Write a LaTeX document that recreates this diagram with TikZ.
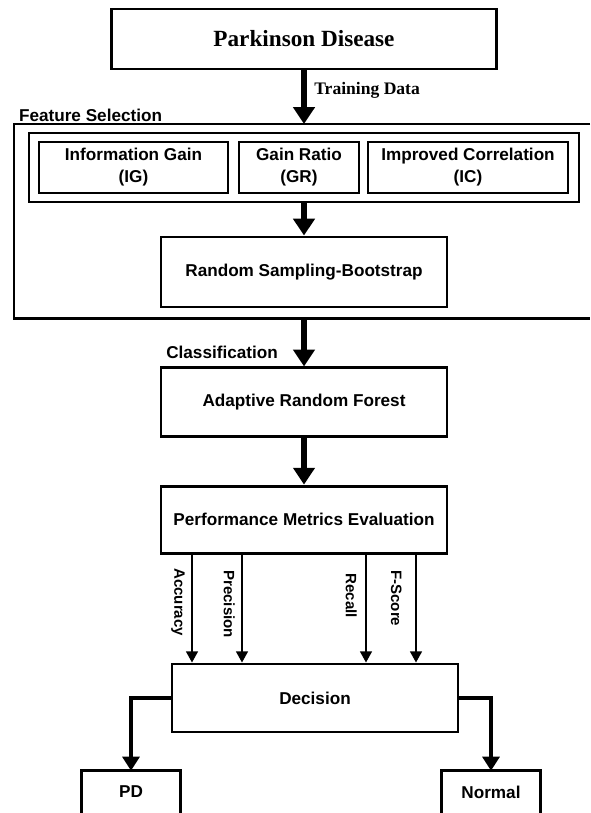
\documentclass[tikz,border=0pt]{standalone}
\usepackage{fontspec}
\setsansfont{Liberation Sans}
\newfontfamily\titlefont{Liberation Serif}
\usetikzlibrary{arrows.meta}

\begin{document}
\begin{tikzpicture}[
    box/.style={draw, line width=2.1pt, align=center, minimum width=7.15cm,
      font=\sffamily\bfseries\fontsize{12.2}{15.6}\selectfont},
    featbox/.style={box, minimum height=1.275cm},
    txt/.style={inner sep=0pt, font=\sffamily\bfseries\fontsize{12.2}{15.6}\selectfont},
    metric/.style={inner sep=0pt, rotate=-90, anchor=north west,
      font=\sffamily\bfseries\fontsize{10.7}{12}\selectfont},
    bigarrow/.style={line width=3.6pt, -{Triangle[width=15pt,length=12pt]}},
    elbow/.style={line width=2.8pt, -{Triangle[width=12pt,length=10pt]}},
    thinarrow/.style={line width=1.3pt, -{Triangle[width=8.5pt,length=8pt]}}
  ]

  \useasboundingbox (0,0) rectangle (14.75,-20.325);

  % input data
  \node[box, minimum width=9.625cm, minimum height=1.5cm,
    font=\titlefont\bfseries\fontsize{16.5}{20}\selectfont] (park) at (7.6,-0.975) {Parkinson Disease};
  \node[inner sep=0pt, anchor=west, font=\titlefont\bfseries\fontsize{12.5}{15}\selectfont]
    (train) at (7.85,-2.25) {Training Data};

  % feature selection frame (runs off the right edge)
  \node[txt, anchor=west] (fslbl) at (0.47,-2.875) {Feature Selection};
  \coordinate (fstop) at (7.6,-3.1);
  \coordinate (fsbot) at (7.6,-7.96);
  \draw[line width=2.1pt] (14.75,-3.1) -- (0.35,-3.1) -- (0.35,-7.96) -- (14.75,-7.96);

  \node[box, minimum width=13.75cm, minimum height=1.725cm] (grp) at (7.6,-4.1875) {};
  \node[featbox, minimum width=4.725cm] (ig) at (3.3375,-4.1875) {Information Gain\\(IG)};
  \node[featbox, minimum width=3.0cm] (gr) at (7.475,-4.1875) {Gain Ratio\\(GR)};
  \node[featbox, minimum width=5.0cm] (ic) at (11.7,-4.1875) {Improved Correlation\\(IC)};
  \node[box, minimum height=1.75cm] (boot) at (7.6,-6.8) {Random Sampling-Bootstrap};

  % classification
  \node[txt, anchor=west] (cls) at (4.15,-8.8) {Classification};
  \node[box, minimum height=1.725cm] (arf) at (7.6,-10.06) {Adaptive Random Forest};
  \node[box, minimum height=1.675cm] (pme) at (7.6,-12.99) {Performance Metrics Evaluation};
  \node[box, minimum height=1.7cm] (dec) at (7.875,-17.45) {Decision};

  % outcomes (bottom edge cut by the page)
  \node[txt, minimum width=2.45cm, minimum height=1.05cm] (pdbox) at (3.275,-19.8) {PD};
  \node[txt, minimum width=2.45cm, minimum height=1.05cm] (normal) at (12.275,-19.8) {Normal};
  \draw[line width=2.1pt] (pdbox.south west) |- (pdbox.north east) -- (pdbox.south east);
  \draw[line width=2.1pt] (normal.south west) |- (normal.north east) -- (normal.south east);

  % main flow
  \draw[bigarrow] (park) -- (fstop);
  \draw[bigarrow] (grp) -- (boot);
  \draw[bigarrow] (fsbot) -- (arf);
  \draw[bigarrow] (arf) -- (pme);

  % metrics
  \coordinate (acc) at ([xshift=-2.8cm]pme.south);
  \coordinate (prec) at ([xshift=-1.55cm]pme.south);
  \coordinate (rec) at ([xshift=1.55cm]pme.south);
  \coordinate (fsc) at ([xshift=2.8cm]pme.south);
  \draw[thinarrow] (acc) -- (acc |- dec.north);
  \draw[thinarrow] (prec) -- (prec |- dec.north);
  \draw[thinarrow] (rec) -- (rec |- dec.north);
  \draw[thinarrow] (fsc) -- (fsc |- dec.north);
  \node[metric] (lacc) at (4.625,-14.2) {Accuracy};
  \node[metric] (lprec) at (5.875,-14.25) {Precision};
  \node[metric] (lrec) at (8.925,-14.33) {Recall};
  \node[metric] (lfsc) at (10.05,-14.25) {F-Score};

  % decision
  \draw[elbow] (dec.west) -| (pdbox.north);
  \draw[elbow] (dec.east) -| (normal.north);

\end{tikzpicture}
\end{document}
